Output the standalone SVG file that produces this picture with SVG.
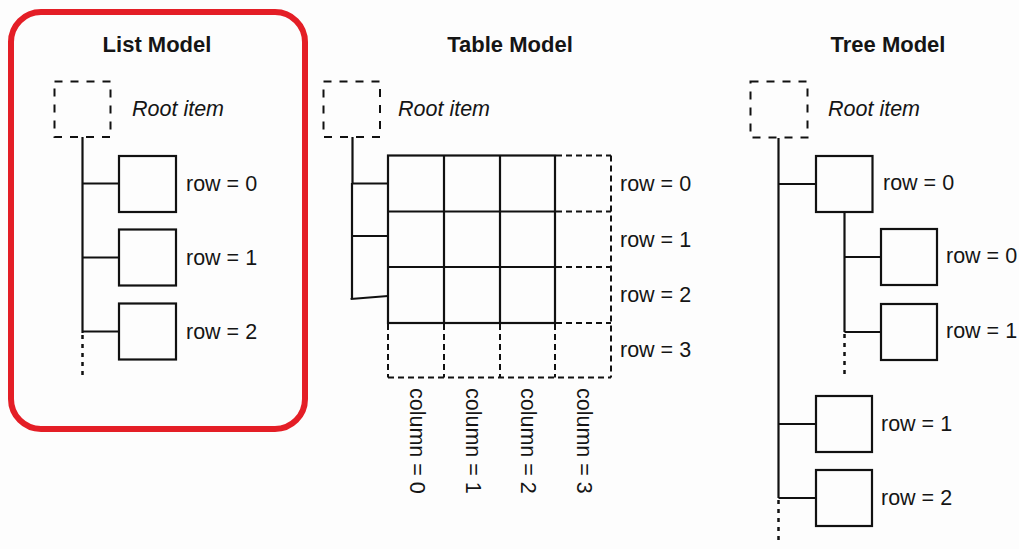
<svg xmlns="http://www.w3.org/2000/svg" width="1019" height="549" viewBox="0 0 1019 549">
<style>
  .bg { fill: #fdfdfd; }
  .box { fill: none; stroke: #111111; stroke-width: 2.2; }
  .root { fill: none; stroke: #111111; stroke-width: 2; stroke-dasharray: 8 8; }
  .ln { fill: none; stroke: #111111; stroke-width: 2.2; }
  .dash { fill: none; stroke: #111111; stroke-width: 2; stroke-dasharray: 6 4; }
  .dot { fill: none; stroke: #111111; stroke-width: 2.5; stroke-dasharray: 4 5; }
  .title { font-family: "Liberation Sans", Arial, sans-serif; font-weight: bold; font-size: 22px; fill: #151515; text-anchor: middle; }
  .it { font-family: "Liberation Sans", Arial, sans-serif; font-style: italic; font-size: 21.5px; fill: #151515; }
  .lbl { font-family: "Liberation Sans", Arial, sans-serif; font-size: 21.5px; fill: #151515; }
</style>
<rect class="bg" x="0" y="0" width="1019" height="549"/>

<!-- highlight frame -->
<rect id="highlight" x="11" y="12" width="294" height="417" rx="30" ry="30" fill="none" stroke="#e41e26" stroke-width="6"/>

<!-- titles -->
<text class="title" x="157" y="52">List Model</text>
<text class="title" x="510" y="52">Table Model</text>
<text class="title" x="888" y="52">Tree Model</text>

<!-- connectors -->
<g id="connectors">
  <!-- list -->
  <line class="ln" x1="82.5" y1="137" x2="82.5" y2="333"/>
  <line class="dot" x1="82.5" y1="335" x2="82.5" y2="378"/>
  <line class="ln" x1="82.5" y1="183.5" x2="119" y2="183.5"/>
  <line class="ln" x1="82.5" y1="257.5" x2="119" y2="257.5"/>
  <line class="ln" x1="82.5" y1="331.5" x2="119" y2="331.5"/>
  <!-- table -->
  <line class="ln" x1="352.5" y1="137" x2="352.5" y2="183"/>
  <line class="ln" x1="352" y1="183" x2="352" y2="299" stroke-width="2.8"/>
  <line class="ln" x1="352" y1="183.5" x2="388" y2="183.5"/>
  <line class="ln" x1="352" y1="236" x2="388" y2="236" stroke-width="2.8"/>
  <polyline class="ln" points="350.6,299 388,296" stroke-width="2.8"/>
  <!-- tree -->
  <line class="ln" x1="778.5" y1="138" x2="778.5" y2="498"/>
  <line class="dot" x1="778.5" y1="500" x2="778.5" y2="545"/>
  <line class="ln" x1="778.5" y1="184" x2="816" y2="184"/>
  <line class="ln" x1="778.5" y1="424" x2="816" y2="424"/>
  <line class="ln" x1="778.5" y1="498" x2="816" y2="498"/>
  <line class="ln" x1="844.5" y1="212" x2="844.5" y2="332"/>
  <line class="dot" x1="844.5" y1="334" x2="844.5" y2="377"/>
  <line class="ln" x1="844.5" y1="257" x2="881" y2="257"/>
  <line class="ln" x1="844.5" y1="332" x2="881" y2="332"/>
</g>

<!-- List model -->
<g id="list-root">
  <rect class="root" x="54.5" y="81.5" width="56" height="55.5"/>
  <text class="it" x="132" y="116">Root item</text>
</g>
<g id="list-row0">
  <rect class="box" x="119" y="156" width="57" height="56"/>
  <text class="lbl" x="186" y="191">row = 0</text>
</g>
<g id="list-row1">
  <rect class="box" x="119" y="229.5" width="57" height="56"/>
  <text class="lbl" x="186" y="265">row = 1</text>
</g>
<g id="list-row2">
  <rect class="box" x="119" y="303.5" width="57" height="56"/>
  <text class="lbl" x="186" y="339">row = 2</text>
</g>

<!-- Table model -->
<g id="table-root">
  <rect class="root" x="323.5" y="81.5" width="56.5" height="55.5"/>
  <text class="it" x="398" y="116">Root item</text>
</g>
<g id="table-grid">
  <rect class="box" x="388" y="155.5" width="167" height="167.5"/>
  <line class="ln" x1="444" y1="155.5" x2="444" y2="323"/>
  <line class="ln" x1="500" y1="155.5" x2="500" y2="323"/>
  <line class="ln" x1="388" y1="211.5" x2="555" y2="211.5"/>
  <line class="ln" x1="388" y1="267" x2="555" y2="267"/>
  <!-- dashed extensions -->
  <line class="dash" x1="556" y1="155.5" x2="611" y2="155.5"/>
  <line class="dash" x1="556" y1="211.5" x2="611" y2="211.5"/>
  <line class="dash" x1="556" y1="267" x2="611" y2="267"/>
  <line class="dash" x1="556" y1="323" x2="611" y2="323"/>
  <line class="dash" x1="611" y1="155.5" x2="611" y2="377.5"/>
  <line class="dash" x1="388" y1="377.5" x2="611" y2="377.5"/>
  <line class="dash" x1="388" y1="324" x2="388" y2="377.5"/>
  <line class="dash" x1="444" y1="324" x2="444" y2="377.5"/>
  <line class="dash" x1="500" y1="324" x2="500" y2="377.5"/>
  <line class="dash" x1="555" y1="324" x2="555" y2="377.5"/>
</g>
<g id="table-labels">
  <text class="lbl" x="620" y="191">row = 0</text>
  <text class="lbl" x="620" y="247">row = 1</text>
  <text class="lbl" x="620" y="302">row = 2</text>
  <text class="lbl" x="620" y="357">row = 3</text>
  <text class="lbl" transform="translate(410,388) rotate(90)">column = 0</text>
  <text class="lbl" transform="translate(465.5,388) rotate(90)">column = 1</text>
  <text class="lbl" transform="translate(521,388) rotate(90)">column = 2</text>
  <text class="lbl" transform="translate(576.5,388) rotate(90)">column = 3</text>
</g>

<!-- Tree model -->
<g id="tree-root">
  <rect class="root" x="750.5" y="81.5" width="57" height="56"/>
  <text class="it" x="828" y="116">Root item</text>
</g>
<g id="tree-row0">
  <rect class="box" x="816" y="156" width="56.5" height="56"/>
  <text class="lbl" x="883" y="190">row = 0</text>
</g>
<g id="tree-child0">
  <rect class="box" x="881" y="229" width="56" height="56"/>
  <text class="lbl" x="946" y="263">row = 0</text>
</g>
<g id="tree-child1">
  <rect class="box" x="881" y="304" width="56" height="56"/>
  <text class="lbl" x="946" y="338">row = 1</text>
</g>
<g id="tree-row1">
  <rect class="box" x="816" y="396" width="56" height="56"/>
  <text class="lbl" x="881" y="431">row = 1</text>
</g>
<g id="tree-row2">
  <rect class="box" x="816" y="470" width="56" height="56"/>
  <text class="lbl" x="881" y="505">row = 2</text>
</g>
</svg>
